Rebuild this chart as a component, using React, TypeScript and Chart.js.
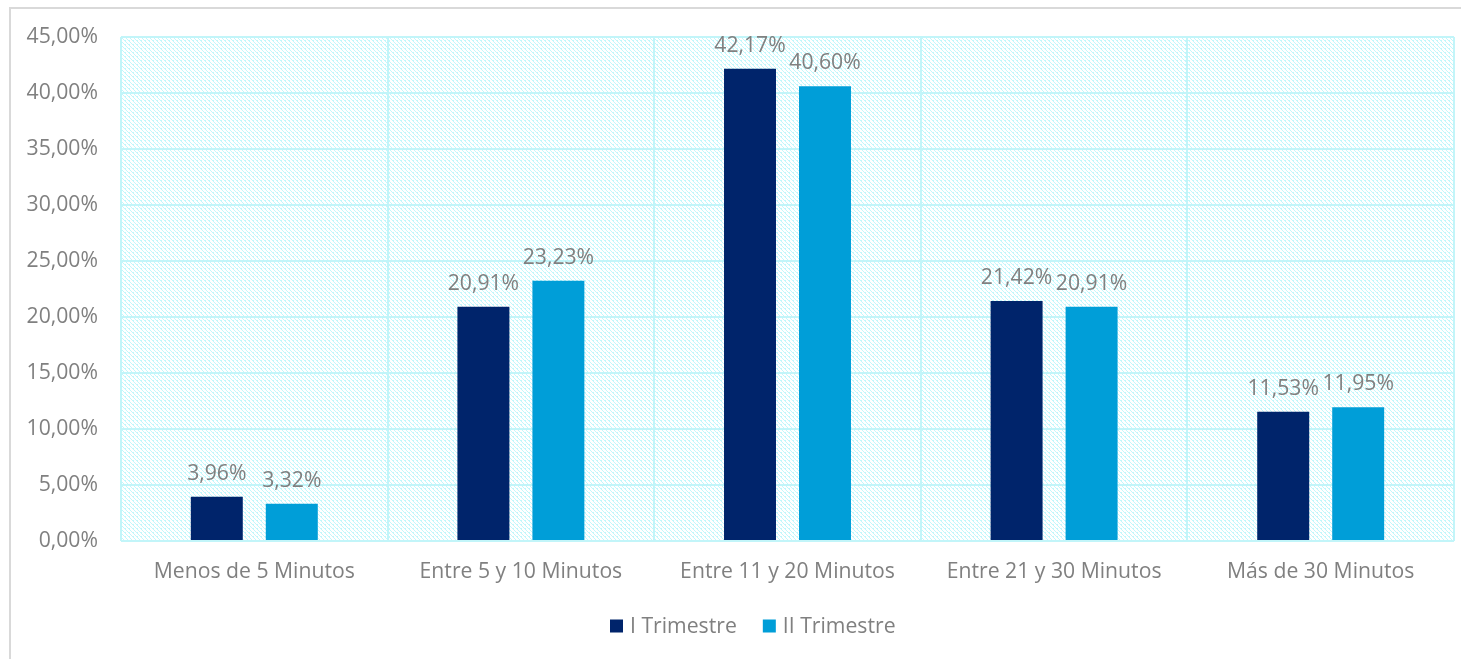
import React, { useEffect, useRef } from "react";
import { Chart, registerables } from "chart.js";

Chart.register(...registerables);

const categories = [
  "Menos de 5 Minutos",
  "Entre 5 y 10 Minutos",
  "Entre 11 y 20 Minutos",
  "Entre 21 y 30 Minutos",
  "Más de 30 Minutos",
];
const trimestre1 = [3.96, 20.91, 42.17, 21.42, 11.53];
const trimestre2 = [3.32, 23.23, 40.6, 20.91, 11.95];
const seriesNames = ["I Trimestre", "II Trimestre"];
const seriesColors = ["#00246B", "#009ED8"];

const W = 1461;
const H = 659;
const FONT = "'Open Sans', 'Noto Sans', sans-serif";
const FONT_SIZE = 21.2;
const TEXT_GREY = "#808080";
const GRID = "#c2f5f9";
const HATCH = "#c2f7fb";

const fmt = (v: number) => v.toFixed(2).replace(".", ",") + "%";

// 8x8 dashed downward-diagonal tile for the plot background
function makeHatch(ctx: CanvasRenderingContext2D): CanvasPattern | string {
  const tile = document.createElement("canvas");
  tile.width = 8;
  tile.height = 8;
  const t = tile.getContext("2d");
  if (!t) return "#ffffff";
  t.fillStyle = "#ffffff";
  t.fillRect(0, 0, 8, 8);
  t.fillStyle = HATCH;
  for (let y = 0; y < 8; y++) {
    for (let x = 0; x < 8; x++) {
      const d = (((x - y) % 4) + 4) % 4;
      if (d === 0 || (d === 1 && y % 4 === 0)) t.fillRect(x, y, 1, 1);
    }
  }
  return ctx.createPattern(tile, "repeat") || "#ffffff";
}

const backdrop = {
  id: "backdrop",
  beforeDraw(chart: any) {
    const { ctx, chartArea } = chart;
    ctx.save();
    ctx.fillStyle = "#ffffff";
    ctx.fillRect(0, 0, W, H);
    // outer frame
    ctx.strokeStyle = "#d9d9d9";
    ctx.lineWidth = 2;
    ctx.beginPath();
    ctx.moveTo(10, H + 2);
    ctx.lineTo(10, 8);
    ctx.lineTo(W + 2, 8);
    ctx.stroke();
    // hatched plot area
    ctx.fillStyle = makeHatch(ctx);
    ctx.fillRect(
      chartArea.left,
      chartArea.top,
      chartArea.right - chartArea.left,
      chartArea.bottom - chartArea.top
    );
    ctx.restore();
  },
};

const valueLabels = {
  id: "valueLabels",
  afterDatasetsDraw(chart: any) {
    const { ctx } = chart;
    ctx.save();
    ctx.font = `${FONT_SIZE}px ${FONT}`;
    ctx.fillStyle = TEXT_GREY;
    ctx.textAlign = "center";
    ctx.textBaseline = "alphabetic";
    chart.data.datasets.forEach((ds: any, i: number) => {
      const meta = chart.getDatasetMeta(i);
      meta.data.forEach((bar: any, j: number) => {
        ctx.fillText(fmt(ds.data[j]), bar.x, bar.y - 17);
      });
    });
    ctx.restore();
  },
};

const bottomLegend = {
  id: "bottomLegend",
  afterDraw(chart: any) {
    const { ctx } = chart;
    ctx.save();
    ctx.font = `${FONT_SIZE}px ${FONT}`;
    ctx.textBaseline = "middle";
    ctx.textAlign = "left";
    const box = 13;
    const gapBox = 7;
    const gapItem = 26;
    let x = 610;
    const y = 626;
    seriesNames.forEach((name, i) => {
      ctx.fillStyle = seriesColors[i];
      ctx.fillRect(x, y - box / 2, box, box);
      x += box + gapBox;
      ctx.fillStyle = TEXT_GREY;
      ctx.fillText(name, x, y + 1);
      x += ctx.measureText(name).width + gapItem;
    });
    ctx.restore();
  },
};

export default function App() {
  const ref = useRef<HTMLCanvasElement | null>(null);

  useEffect(() => {
    if (!ref.current) return;
    const chart = new Chart(ref.current, {
      type: "bar",
      data: {
        labels: categories,
        datasets: [
          {
            label: seriesNames[0],
            data: trimestre1,
            backgroundColor: seriesColors[0],
            categoryPercentage: 0.5626,
            barPercentage: 0.693,
          },
          {
            label: seriesNames[1],
            data: trimestre2,
            backgroundColor: seriesColors[1],
            categoryPercentage: 0.5626,
            barPercentage: 0.693,
          },
        ],
      },
      options: {
        responsive: false,
        animation: false,
        layout: { padding: { left: 0, right: 7, top: 37, bottom: 0 } },
        plugins: {
          legend: { display: false },
          tooltip: { enabled: false },
        },
        scales: {
          x: {
            grid: { color: GRID, lineWidth: 2, offset: true, drawTicks: false },
            border: { display: false },
            ticks: {
              color: TEXT_GREY,
              font: { family: FONT, size: FONT_SIZE },
              padding: 18,
              maxRotation: 0,
            },
            afterFit(scale: any) {
              scale.height = 118;
            },
          },
          y: {
            min: 0,
            max: 45,
            grid: { color: GRID, lineWidth: 2, drawTicks: false },
            border: { display: false },
            ticks: {
              stepSize: 5,
              color: TEXT_GREY,
              font: { family: FONT, size: FONT_SIZE },
              padding: 23,
              callback: (v: any) => fmt(Number(v)),
            },
            afterFit(scale: any) {
              scale.width = 121;
            },
          },
        },
      },
      plugins: [backdrop, valueLabels, bottomLegend],
    });
    return () => chart.destroy();
  }, []);

  return (
    <div style={{ position: "fixed", left: 0, top: 0, width: W, height: H }}>
      <canvas ref={ref} width={W} height={H} style={{ display: "block" }} />
    </div>
  );
}
